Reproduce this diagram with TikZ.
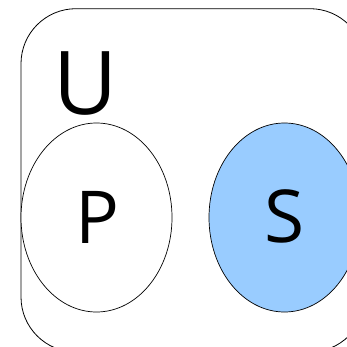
\documentclass[tikz,border=0pt]{standalone}
\usepackage{fontspec}
\setmainfont{Open Sans}
\usetikzlibrary{shapes.geometric}
\definecolor{setblue}{HTML}{99CCFF}
\tikzset{
  setellipse/.style={draw=black, line width=0.7pt, ellipse, inner sep=0pt,
    minimum width=151pt, minimum height=189pt},
  biglabel/.style={anchor=base, inner sep=0pt, font=\fontsize{73}{73}\selectfont},
  ulabel/.style={anchor=base, inner sep=0pt, font=\fontsize{88}{88}\selectfont},
}
\begin{document}
\begin{tikzpicture}[x=1pt, y=-1pt]
  \useasboundingbox (0,0) rectangle (347,347);
  \clip (0,0) rectangle (347,347);
  \fill[white] (0,0) rectangle (347,347);
  \draw[line width=0.8pt, rounded corners=55pt] (21,8.7) rectangle (365,352);
  \node[setellipse, fill=white] (P) at (96.5,217.5) {};
  \node[setellipse, fill=setblue] (S) at (284.5,217.5) {};
  \node[ulabel] (U) at (85.5,114.5) {U};
  \node[biglabel] (Pl) at (97,243) {P};
  \node[biglabel] (Sl) at (285,242.5) {S};
\end{tikzpicture}
\end{document}
